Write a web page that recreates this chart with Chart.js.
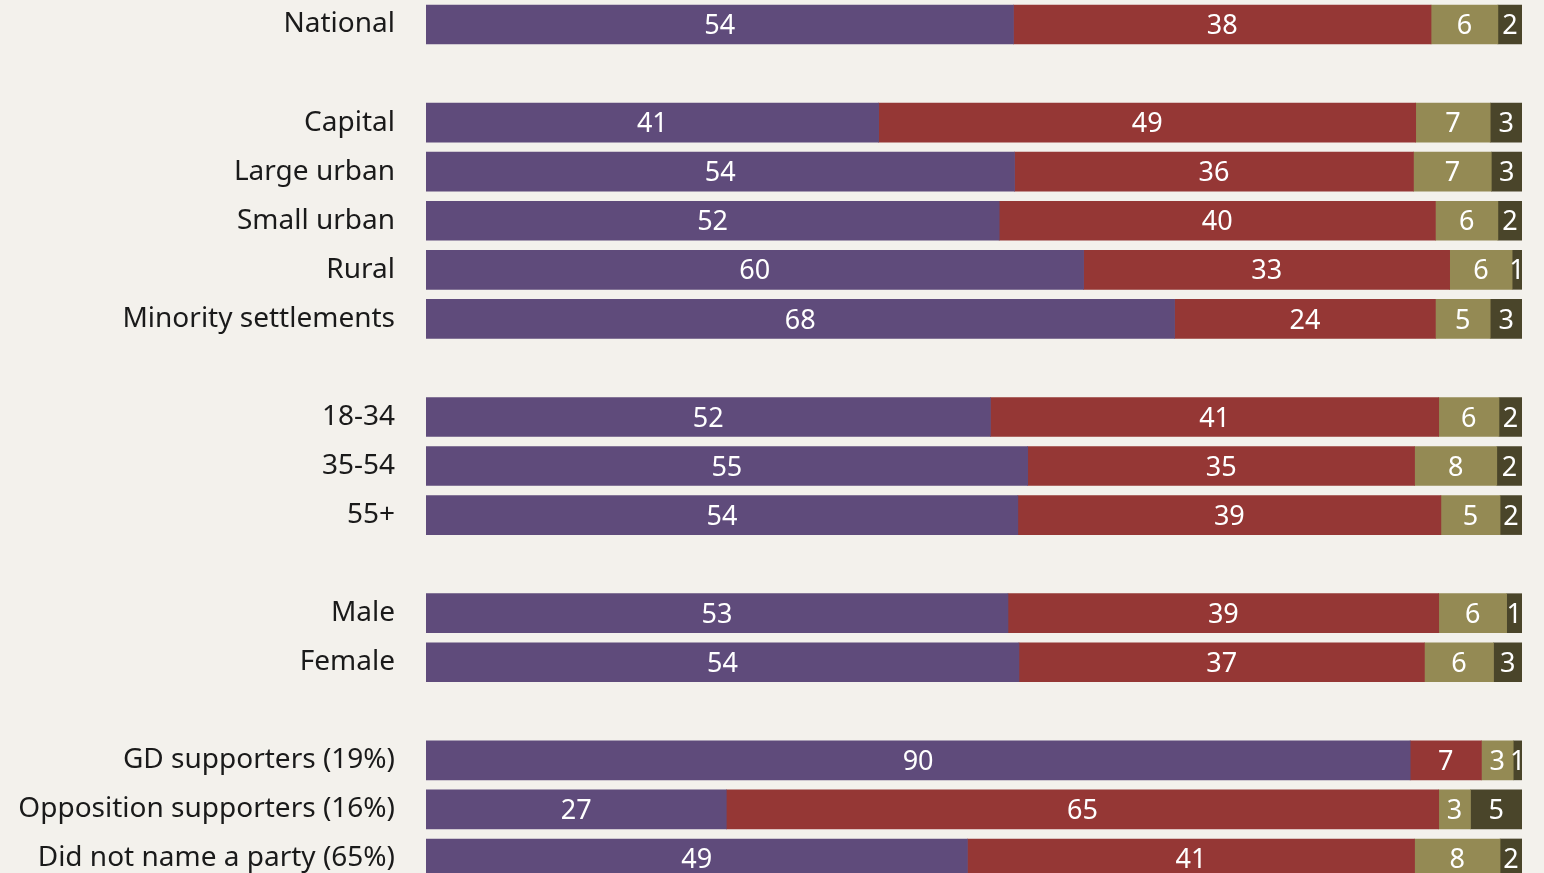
<!DOCTYPE html>
<html>
<head>
<meta charset="utf-8">
<script src="https://cdn.jsdelivr.net/npm/chart.js@4.4.0/dist/chart.umd.min.js"></script>
<style>
  html, body { margin: 0; padding: 0; background: #F3F1EC; overflow: hidden; }
  #wrap { position: relative; width: 1544px; height: 883px; }
</style>
</head>
<body>
<div id="wrap"><canvas id="chart"></canvas></div>
<script>
// Categories (empty strings are the gaps between groups)
const categories = [
    'National', '',
    'Capital', 'Large urban', 'Small urban', 'Rural', 'Minority settlements', '',
    '18-34', '35-54', '55+', '',
    'Male', 'Female', '',
    'GD supporters (19%)', 'Opposition supporters (16%)', 'Did not name a party (65%)'
];

// Series values (%)
const seriesA = [53.6, null, 41.3, 53.7, 52.3, 60.0, 68.3, null, 51.5, 54.9, 54.0, null, 53.1, 54.1, null, 89.8, 27.4, 49.4];
const seriesB = [38.1, null, 49.0, 36.4, 39.8, 33.4, 23.8, null, 40.9, 35.3, 38.6, null, 39.3, 37.0, null, 6.5, 65.0, 40.8];
const seriesC = [6.1, null, 6.8, 7.1, 5.7, 5.7, 5.0, null, 5.5, 7.5, 5.4, null, 6.2, 6.3, null, 2.9, 2.9, 7.8];
const seriesD = [2.2, null, 2.9, 2.8, 2.2, 0.9, 2.9, null, 2.1, 2.3, 2.0, null, 1.4, 2.6, null, 0.8, 4.7, 2.0];

const colors = ['#5F4B7B', '#953735', '#948A54', '#4A452A'];
const FONT = '"Noto Sans", "Open Sans", sans-serif';

// Draw rounded values in the middle of each segment
const segmentLabels = {
    id: 'segmentLabels',
    afterDatasetsDraw(chart) {
        const ctx = chart.ctx;
        ctx.save();
        ctx.fillStyle = '#FFFFFF';
        ctx.font = '27px ' + FONT;
        ctx.textAlign = 'center';
        ctx.textBaseline = 'middle';
        chart.data.datasets.forEach((ds, i) => {
            const meta = chart.getDatasetMeta(i);
            meta.data.forEach((bar, j) => {
                const v = ds.data[j];
                if (v === null || v === undefined) return;
                const x = (bar.x + bar.base) / 2;
                ctx.fillText(String(Math.round(v)), x, bar.y + 2);
            });
        });
        ctx.restore();
    }
};

const datasets = [seriesA, seriesB, seriesC, seriesD].map((d, i) => ({
    data: d,
    backgroundColor: colors[i],
    borderWidth: 0,
    barThickness: 39
}));

new Chart(document.getElementById('chart'), {
    type: 'bar',
    data: { labels: categories, datasets: datasets },
    options: {
        indexAxis: 'y',
        responsive: true,
        maintainAspectRatio: false,
        animation: false,
        layout: { padding: { left: 0, right: 22, top: 0, bottom: 0 } },
        plugins: {
            legend: { display: false },
            tooltip: { enabled: false }
        },
        scales: {
            x: {
                stacked: true,
                display: false,
                min: 0,
                max: 100
            },
            y: {
                stacked: true,
                grid: { display: false, drawTicks: false },
                border: { display: false },
                ticks: {
                    color: '#1A1A1A',
                    font: { family: FONT, size: 28 },
                    padding: 31,
                    autoSkip: false
                },
                afterFit(scale) {
                    scale.width = 426;
                    scale.paddingTop = 0;
                    scale.paddingBottom = 0;
                }
            }
        }
    },
    plugins: [segmentLabels]
});
</script>
</body>
</html>
